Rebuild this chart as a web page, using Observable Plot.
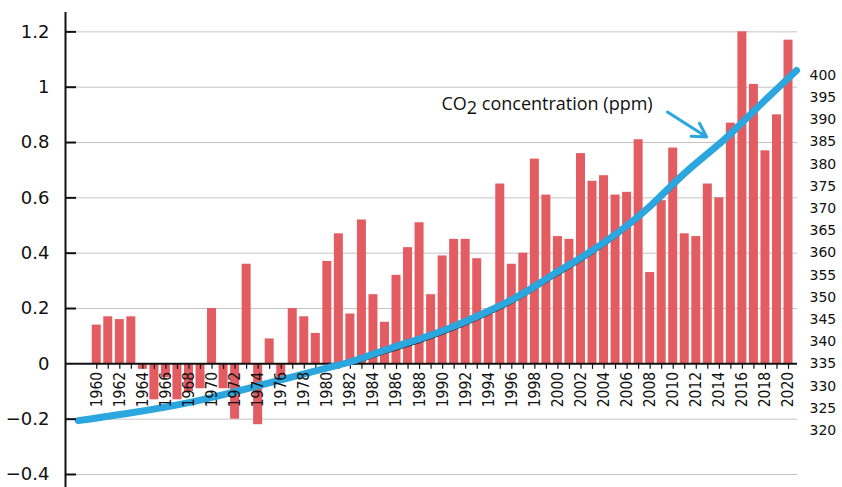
<!DOCTYPE html>
<html><head><meta charset="utf-8">
<script src="https://cdn.jsdelivr.net/npm/d3@7"></script>
<script src="https://cdn.jsdelivr.net/npm/@observablehq/plot@0.6"></script>
<style>html,body{margin:0;padding:0;background:#fff;} #chart svg{display:block}</style>
</head><body><div id="chart"></div>
<script>
// Years (categories)
const years = [1960,1961,1962,1963,1964,1965,1966,1967,1968,1969,
  1970,1971,1972,1973,1974,1975,1976,1977,1978,1979,
  1980,1981,1982,1983,1984,1985,1986,1987,1988,1989,
  1990,1991,1992,1993,1994,1995,1996,1997,1998,1999,
  2000,2001,2002,2003,2004,2005,2006,2007,2008,2009,
  2010,2011,2012,2013,2014,2015,2016,2017,2018,2019,2020];
// Temperature anomaly bars (left axis)
const anomalies = [0.14,0.17,0.16,0.17,-0.02,-0.13,-0.05,-0.13,-0.10,-0.09,
  0.20,-0.09,-0.20,0.36,-0.22,0.09,-0.05,0.20,0.17,0.11,
  0.37,0.47,0.18,0.52,0.25,0.15,0.32,0.42,0.51,0.25,
  0.39,0.45,0.45,0.38,0.18,0.65,0.36,0.40,0.74,0.61,
  0.46,0.45,0.76,0.66,0.68,0.61,0.62,0.81,0.33,0.59,
  0.78,0.47,0.46,0.65,0.60,0.87,1.20,1.01,0.77,0.90,1.17];
// CO2 concentration curve (right axis, ppm)
const co2Years = [1958.4,1962.6,1968.4,1974.2,1980,1982.3,1985.2,1988.1,1991,1993.9,1996.8,1999.5,2002.3,2005.2,2008.1,2011,2014.4,2017,2020.7];
const co2Ppm   = [322.2,323.8,326.5,330.2,334.1,335.7,338.3,340.7,343.5,346.8,350.6,355.0,359.4,364.6,370.8,378.0,385.5,392.0,401.1];
// Axis ticks
const leftTicks = [-0.4,-0.2,0,0.2,0.4,0.6,0.8,1,1.2];
const gridValues = [-0.4,-0.2,0.2,0.4,0.6,0.8,1,1.2];
const rightTicks = [320,325,330,335,340,345,350,355,360,365,370,375,380,385,390,395,400];
const xLabelYears = [1960,1962,1964,1966,1968,1970,1972,1974,1976,1978,1980,1982,1984,1986,1988,1990,1992,1994,1996,1998,2000,2002,2004,2006,2008,2010,2012,2014,2016,2018,2020];
// Annotation
const annotationText = "CO2 concentration (ppm)";
const annotation = [{year: 1989.9, value: 0.94}];
const arrowData = [{x1: 2009.5, y1: 0.91, x2: 2012.9, y2: 0.82}];

// Right axis alignment: 335 ppm sits on the zero line, 12.47 ppm per 0.2
const ppmBase = 335, ppmPerUnit = 0.2 / 12.47;
const toV = p => (p - ppmBase) * ppmPerUnit;

const bars = years.map((year, i) => ({year, value: anomalies[i]}));
const co2 = co2Years.map((year, i) => ({year, value: toV(co2Ppm[i])}));

const xDomain = [1957.29, 2020.78];
const fmtLeft = d => d === 0 ? "0" : (d < 0 ? "\u2212" : "") + String(+Math.abs(d).toFixed(1));
const BAR = "#e35c61", BLUE = "#2ba6de", INK = "#111";

const plot = Plot.plot({
  width: 842, height: 487,
  marginLeft: 65, marginRight: 45, marginTop: 12, marginBottom: 13,
  x: {type: "linear", domain: xDomain, axis: null},
  y: {domain: [-0.4, 1.27], axis: null},
  style: {fontFamily: "'DejaVu Sans', sans-serif", background: "#fff", color: INK},
  marks: [
    Plot.ruleY(gridValues, {stroke: "#c4c4c4", strokeWidth: 1}),
    Plot.rect(bars, {x1: d => d.year - 0.39, x2: d => d.year + 0.39, y1: () => 0, y2: "value", fill: BAR}),
    Plot.ruleY([0], {stroke: INK, strokeWidth: 2}),
    Plot.ruleX(years, {x: d => d, y1: () => 0, y2: () => -0.02, stroke: INK, strokeWidth: 1.2}),
    Plot.ruleX([xDomain[0]], {stroke: INK, strokeWidth: 2, insetBottom: -13}),
    Plot.line(co2, {filter: d => d.year >= 1982 && d.year <= 2011, x: "year", y: "value", stroke: "#222", strokeWidth: 1.2, dy: 3.6, curve: "natural"}),
    Plot.line(co2, {x: "year", y: "value", stroke: BLUE, strokeWidth: 7, curve: "natural", strokeLinecap: "round"}),
    Plot.text(xLabelYears, {x: d => d, y: () => 0, text: d => String(d), rotate: -90, textAnchor: "end", dy: 8, fontSize: 15.5, fontFamily: "'DejaVu Sans Condensed', 'DejaVu Sans', sans-serif", fill: INK}),
    Plot.axisY(leftTicks, {anchor: "left", tickSize: 0, tickPadding: 16, tickFormat: fmtLeft, fontSize: 18, label: null, fill: INK}),
    Plot.axisY(leftTicks.filter(d => d !== 0), {anchor: "left", tickSize: 11, dx: 11, tickFormat: () => "", label: null, stroke: INK, strokeWidth: 2}),
    Plot.axisY(rightTicks.map(toV), {anchor: "right", tickSize: 0, tickPadding: 12, textAnchor: "start", tickFormat: v => String(Math.round(v / ppmPerUnit + ppmBase)), fontSize: 14, label: null, fill: INK}),
    Plot.arrow(arrowData, {x1: "x1", y1: "y1", x2: "x2", y2: "y2", stroke: BLUE, strokeWidth: 3, headLength: 10}),
    Plot.text(annotation, {x: "year", y: "value", text: () => annotationText, textAnchor: "start", fontSize: 18, fontFamily: "'Open Sans', sans-serif", fill: INK})
  ]
});

d3.select(plot).selectAll("text").filter(function() { return this.textContent === annotationText; }).each(function() {
  const t = d3.select(this);
  t.text(null);
  t.append("tspan").text("CO");
  t.append("tspan").attr("dy", "0.25em").text("2");
  t.append("tspan").attr("dy", "-0.25em").text(" concentration (ppm)");
});

document.getElementById("chart").appendChild(plot);
</script>
</body></html>
